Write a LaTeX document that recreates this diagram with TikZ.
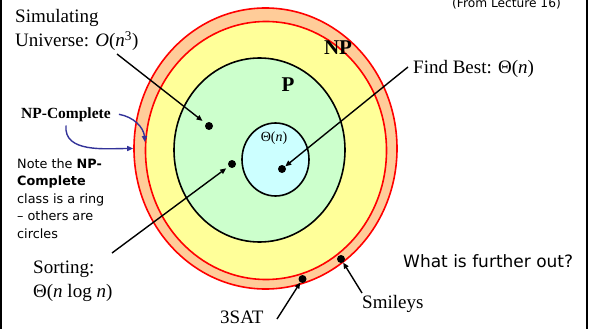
\documentclass[tikz,border=0pt]{standalone}
\usepackage{fontspec}
\setmainfont{Liberation Serif}
\newfontfamily\notefont{DejaVu Sans}
\usetikzlibrary{arrows.meta,shapes.geometric}

\definecolor{npcfill}{HTML}{FFCC99}
\definecolor{npfill}{HTML}{FFFF99}
\definecolor{pfill}{HTML}{CCFFCC}
\definecolor{linfill}{HTML}{CCFFFF}
\definecolor{navy}{HTML}{333399}

\begin{document}
\begin{tikzpicture}[
  x=1pt, y=-1pt, >={Triangle[length=6pt,width=5pt]},
  cls/.style={ellipse, draw, line width=1.6pt, inner sep=0pt},
  dot/.style={circle, fill, inner sep=0pt, minimum size=8pt},
  lbl/.style={inner sep=0pt, anchor=base west, align=left,
              font=\fontsize{19}{24}\selectfont},
  note/.style={inner sep=0pt, anchor=base west, align=left,
               font=\notefont\fontsize{12.8}{17.5}\selectfont},
  big/.style={inner sep=0pt, font=\bfseries\fontsize{21}{21}\selectfont},
  arr/.style={->, line width=1.4pt},
  bluearr/.style={->, line width=1.4pt, draw=navy},
]
\useasboundingbox (0,0) rectangle (589,329);

% the classes, outermost first
\node[cls, draw=red, fill=npcfill, minimum width=263pt, minimum height=281pt] (npc) at (265.5,148.5) {};
\node[cls, draw=red, fill=npfill, minimum width=241pt, minimum height=258pt] (np) at (266,150.5) {};
\node[cls, fill=pfill, minimum width=171pt, minimum height=184pt] (p) at (259.5,150) {};
\node[cls, fill=linfill, minimum width=67pt, minimum height=73pt] (lin) at (275.5,159.5) {};

\node[big] (nplbl) at (338,48) {NP};
\node[big] (plbl) at (288,85) {P};
\node[inner sep=0pt, anchor=base, font=\fontsize{14}{14}\selectfont] (linlbl) at (274,141) {Θ(\textit{n})};

% problems
\node[dot] (univ) at (209,126) {};
\node[dot] (sort) at (232,164) {};
\node[dot] (find) at (282,169) {};
\node[dot] (sat) at (302.5,279) {};
\node[dot] (smiley) at (341,259) {};

% labels (base = last line)
\node[lbl] (univlbl) at (15,47) {Simulating\\Universe: \textit{O}(\textit{n}\textsuperscript{3})};
\node[lbl] (findlbl) at (413,74) {Find Best: Θ(\textit{n})};
\node[lbl] (sortlbl) at (33,297) {Sorting:\\Θ(\textit{n} log \textit{n})};
\node[lbl] (smileylbl) at (362,308) {Smileys};
\node[lbl] (satlbl) at (220,323) {3SAT};

\node[inner sep=0pt, anchor=base west, font=\bfseries\fontsize{15.5}{15.5}\selectfont] (npclbl) at (21,118) {NP-Complete};
\node[note] (ringnote) at (17,238) {Note the \textbf{NP-}\\\textbf{Complete}\\class is a ring\\– others are\\circles};
\node[inner sep=0pt, anchor=base west, font=\notefont\fontsize{17}{17}\selectfont] (outq) at (403,267) {What is further out?};
\node[inner sep=0pt, anchor=base west, font=\notefont\fontsize{12.2}{12.2}\selectfont] (src) at (452,8) {(From Lecture 16)};

\coordinate (univ-from) at (117,54);
\coordinate (find-from) at (408,67);
\coordinate (sort-from) at (112,253);
\coordinate (sat-from) at (277,319);
\coordinate (smiley-from) at (362,293);

\draw[arr, shorten >=4pt] (univ-from) -- (univ);
\draw[arr, shorten >=3pt] (sort-from) -- (sort);
\draw[arr] (find-from) -- (find);
\draw[arr] (sat-from) -- (sat);
\draw[arr] (smiley-from) -- (smiley);

\draw[bluearr] ([xshift=8pt]npclbl.east) to[out=-10, in=95] (np.176);
\draw[bluearr] ([yshift=-4pt]npclbl.south) to[out=-95, in=180] (npc.west);

% frame
\draw[line width=2pt] (1,0) -- (1,329);
\draw[line width=2pt] (587,0) -- (587,329);
\end{tikzpicture}
\end{document}
